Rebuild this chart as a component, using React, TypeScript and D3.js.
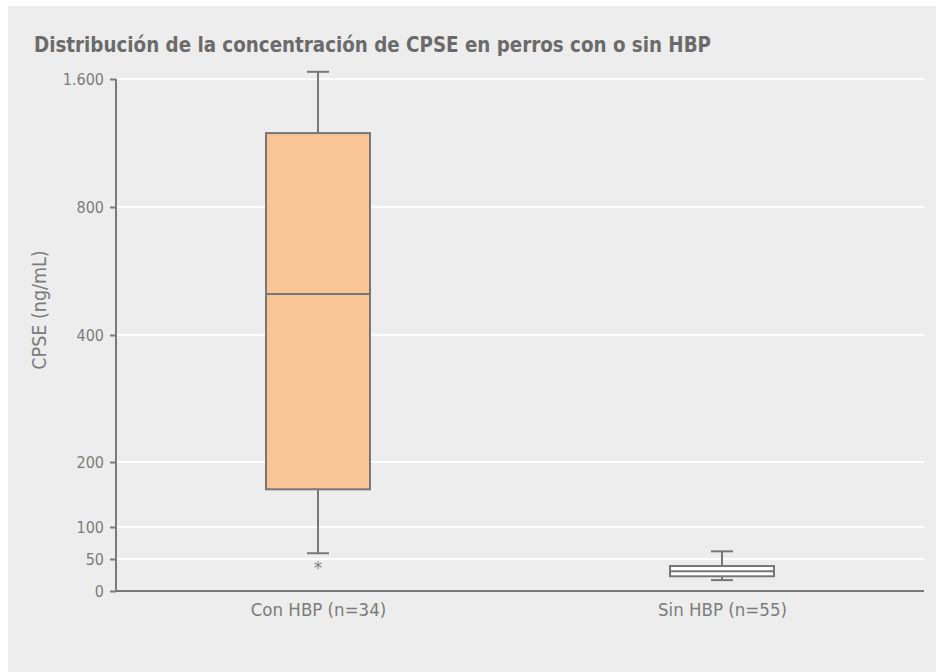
import { useEffect, useRef } from 'react';
import * as d3 from 'd3';

const W = 936;
const H = 672;

// y axis breaks: the chart uses a piecewise scale (linear below 100, doubling above)
const yTicks = [0, 50, 100, 200, 400, 800, 1600];
const yTickLabels = ['0', '50', '100', '200', '400', '800', '1.600'];
const yTickPx = [591, 559, 527, 462, 335, 207, 79];

const groups = ['Con HBP (n=34)', 'Sin HBP (n=55)'];
const whiskerLow = [59, 17];
const q1 = [158, 23];
const median = [528, 31];
const q3 = [1262, 39];
const whiskerHigh = [1645, 62];
const boxFill = ['#f9c496', '#ffffff'];
const outliers = [{ group: 0, value: 44 }];

export default function App() {
  const svgRef = useRef<SVGSVGElement | null>(null);

  useEffect(() => {
    if (!svgRef.current) return;
    const svg = d3.select(svgRef.current);
    svg.selectAll('*').remove();

    const left = 116, right = 924;
    const y = d3.scaleLinear().domain(yTicks).range(yTickPx);
    const x = d3.scalePoint().domain(groups).range([left, right]).padding(0.5);

    const axisColor = '#7a7a7a';
    const textColor = '#7c7c7c';
    const font = '"DejaVu Sans Condensed", "Liberation Sans Narrow", sans-serif';

    svg.append('rect').attr('x', 8).attr('y', 6).attr('width', W - 8).attr('height', H - 6).attr('fill', '#ededed');

    svg.append('text')
      .attr('x', 34).attr('y', 52)
      .attr('fill', '#6b6b6b')
      .attr('font-family', font)
      .attr('font-weight', 700)
      .attr('font-size', 21)
      .attr('textLength', 677)
      .attr('lengthAdjust', 'spacingAndGlyphs')
      .text('Distribución de la concentración de CPSE en perros con o sin HBP');

    // Grid
    svg.append('g')
      .selectAll('line')
      .data(yTicks.filter((d) => d > 0))
      .join('line')
      .attr('x1', left).attr('x2', right)
      .attr('y1', (d) => y(d)).attr('y2', (d) => y(d))
      .attr('stroke', '#ffffff').attr('stroke-width', 2);

    // Y axis
    svg.append('g')
      .attr('transform', `translate(${left},0)`)
      .call(d3.axisLeft(y).tickValues(yTicks).tickSize(6).tickPadding(6)
        .tickFormat((d, i) => yTickLabels[i]))
      .call((g) => {
        g.select('.domain').attr('stroke', axisColor).attr('stroke-width', 2).attr('d', `M0,${y(1600)}V${y(0)}`);
        g.selectAll('line').attr('stroke', axisColor).attr('stroke-width', 2);
        g.selectAll('text').attr('fill', textColor).attr('font-size', 16).attr('font-family', font);
      });

    // X axis
    svg.append('g')
      .attr('transform', `translate(0,${y(0)})`)
      .call(d3.axisBottom(x).tickSize(0).tickPadding(12))
      .call((g) => {
        g.select('.domain').attr('stroke', axisColor).attr('stroke-width', 2).attr('d', `M${left},0H${right}`);
        g.selectAll('text').attr('fill', textColor).attr('font-size', 18.5).attr('font-family', font);
      });

    svg.append('text')
      .attr('transform', `translate(46,${310}) rotate(-90)`)
      .attr('text-anchor', 'middle')
      .attr('fill', textColor)
      .attr('font-size', 19.5)
      .attr('font-family', font)
      .text('CPSE (ng/mL)');

    const boxW = 104;
    const capW = 22;
    const stroke = '#777777';

    groups.forEach((gname, i) => {
      const cx = x(gname)!;
      const g = svg.append('g');
      // whiskers
      g.append('line').attr('x1', cx).attr('x2', cx).attr('y1', y(whiskerHigh[i])).attr('y2', y(q3[i]))
        .attr('stroke', stroke).attr('stroke-width', 2);
      g.append('line').attr('x1', cx).attr('x2', cx).attr('y1', y(q1[i])).attr('y2', y(whiskerLow[i]))
        .attr('stroke', stroke).attr('stroke-width', 2);
      [whiskerHigh[i], whiskerLow[i]].forEach((v) => {
        g.append('line').attr('x1', cx - capW / 2).attr('x2', cx + capW / 2).attr('y1', y(v)).attr('y2', y(v))
          .attr('stroke', stroke).attr('stroke-width', 2);
      });
      g.append('rect')
        .attr('x', cx - boxW / 2).attr('width', boxW)
        .attr('y', y(q3[i])).attr('height', y(q1[i]) - y(q3[i]))
        .attr('fill', boxFill[i]).attr('stroke', stroke).attr('stroke-width', 2);
      g.append('line').attr('x1', cx - boxW / 2).attr('x2', cx + boxW / 2)
        .attr('y1', y(median[i])).attr('y2', y(median[i]))
        .attr('stroke', stroke).attr('stroke-width', 2);
    });

    outliers.forEach((o) => {
      svg.append('text')
        .attr('x', x(groups[o.group])!).attr('y', y(o.value) + 11)
        .attr('text-anchor', 'middle')
        .attr('fill', textColor)
        .attr('font-size', 18)
        .attr('font-family', font)
        .text('*');
    });
  }, []);

  return (
    <svg
      ref={svgRef}
      width={W}
      height={H}
      style={{ position: 'absolute', left: 0, top: 0, display: 'block' }}
    />
  );
}
